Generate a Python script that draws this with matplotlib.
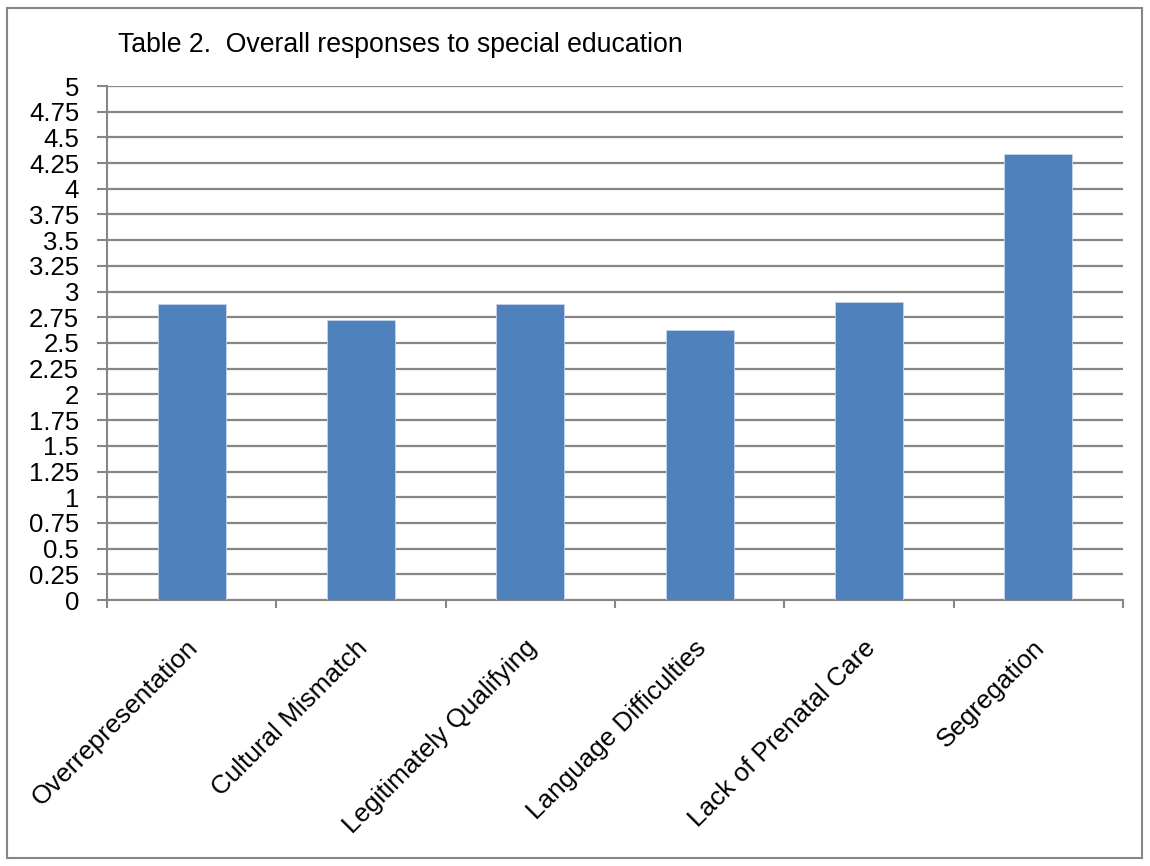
import matplotlib.pyplot as plt
from matplotlib.patches import Rectangle
from matplotlib.transforms import ScaledTranslation
import numpy as np

categories = ['Overrepresentation', 'Cultural Mismatch', 'Legitimately Qualifying',
              'Language Difficulties', 'Lack of Prenatal Care', 'Segregation']
values = [2.875, 2.727, 2.875, 2.627, 2.90, 4.338]
y_ticks = [0, 0.25, 0.5, 0.75, 1, 1.25, 1.5, 1.75, 2, 2.25, 2.5, 2.75,
           3, 3.25, 3.5, 3.75, 4, 4.25, 4.5, 4.75, 5]
y_labels = ['0', '0.25', '0.5', '0.75', '1', '1.25', '1.5', '1.75', '2', '2.25', '2.5', '2.75',
            '3', '3.25', '3.5', '3.75', '4', '4.25', '4.5', '4.75', '5']
title = 'Table 2.  Overall responses to special education'

plt.rcParams['font.family'] = ['Liberation Sans', 'DejaVu Sans']
grey = '#868686'

fig = plt.figure(figsize=(11.5, 8.66), dpi=100)
# outer chart border
fig.patches.append(Rectangle((7/1150, 8/866), 1135/1150, 850/866, transform=fig.transFigure,
                             fill=False, edgecolor=grey, linewidth=1.5))

ax = fig.add_axes([107/1150, 1 - 600/866, (1123 - 107)/1150, (600 - 86)/866])
x = np.arange(len(categories))
ax.bar(x, values, width=0.4, color='#4F81BD', edgecolor='#C6D5EA', linewidth=0.6, zorder=3)

ax.set_xlim(-0.5, len(categories) - 0.5)
ax.set_ylim(0, 5)
ax.set_yticks(y_ticks)
ax.set_yticklabels(y_labels, fontsize=18.5)
ax.yaxis.grid(True, color=grey, linewidth=1.6, zorder=0)
ax.set_axisbelow(True)

# ticks between categories, labels at centres
ax.set_xticks(np.arange(-0.5, len(categories) + 0.5, 1))
ax.set_xticklabels([])
ax.set_xticks(x, minor=True)
ax.set_xticklabels(categories, minor=True, rotation=45, ha='right',
                   rotation_mode='anchor', fontsize=18.8)
ax.tick_params(axis='x', which='minor', length=0, pad=27)
ax.tick_params(axis='x', which='major', length=6, color=grey, width=1.5)
ax.tick_params(axis='y', length=7, color=grey, width=1.5, pad=13)

# nudge category labels a little left
shift = ScaledTranslation(-6/100, 2/100, fig.dpi_scale_trans)
for lbl in ax.get_xticklabels(minor=True):
    lbl.set_transform(lbl.get_transform() + shift)

for s in ['top', 'right']:
    ax.spines[s].set_visible(False)
for s in ['left', 'bottom']:
    ax.spines[s].set_color(grey)
    ax.spines[s].set_linewidth(1.5)

fig.text(118/1150, 1 - 45/866, title, fontsize=19.2, va='center', ha='left')

fig.savefig('out.png', dpi=100)
